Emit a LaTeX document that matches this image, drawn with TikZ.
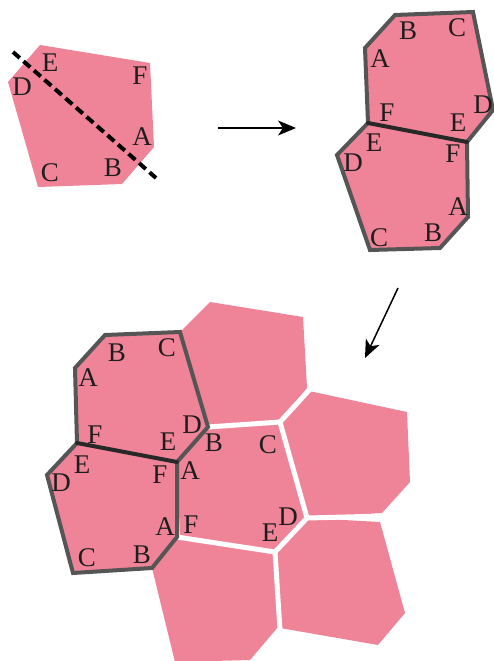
\documentclass[tikz,border=0pt]{standalone}
\usepackage{fontspec}
\setmainfont{Liberation Serif}
\usetikzlibrary{arrows.meta}
\definecolor{tilepink}{RGB}{239,131,152}
\definecolor{edgegray}{RGB}{85,85,85}
\definecolor{seamdark}{RGB}{40,40,40}
\definecolor{lettercol}{RGB}{30,30,30}
\newcommand{\lblfont}{\fontsize{27pt}{27pt}\selectfont}
\tikzset{
  outline/.style={draw=edgegray, line width=4pt, line join=miter},
  shared/.style={draw=seamdark, line width=4pt, line cap=round},
  seam/.style={draw=white, line width=5pt, line cap=round},
  lbl/.style={font=\lblfont, inner sep=0pt, text=lettercol},
  cutline/.style={draw=black, line width=4pt, dash pattern=on 9pt off 5pt},
  arr/.style={draw=black, line width=1.5pt, -{Stealth[length=18pt,width=15pt,inset=5pt]}}
}
\begin{document}
\begin{tikzpicture}[x=1pt,y=-1pt]
\useasboundingbox (0,0) rectangle (494,661);

% ---- first hexagon with cut line ----
\fill[tilepink] (40,45) -- (150,63) -- (154,147) -- (122,184) -- (38,187) -- (8,82) -- cycle;
\node[lbl] (a1E) at (50,63) {E};
\node[lbl] (a1D) at (22,87) {D};
\node[lbl] (a1F) at (140,76) {F};
\node[lbl] (a1A) at (142,137) {A};
\node[lbl] (a1B) at (113,168) {B};
\node[lbl] (a1C) at (50,173) {C};
\coordinate (cutS) at (13,52);
\coordinate (cutE) at (156,178);
\draw[cutline] (cutS) -- (cutE);

% ---- arrow 1 ----
\coordinate (ar1s) at (218,128);
\coordinate (ar1e) at (296,128);
\draw[arr] (ar1s) -- (ar1e);

% ---- top right pair ----
\fill[tilepink] (365,48) -- (395,15) -- (473,12) -- (493,110) -- (467,142) -- (368,123) -- cycle;
\fill[tilepink] (368,123) -- (467,142) -- (468,217) -- (440,248) -- (370,250) -- (337,155) -- cycle;
\draw[outline] (368,123) -- (365,48) -- (395,15) -- (473,12) -- (493,110) -- (467,142)
   -- (468,217) -- (440,248) -- (370,250) -- (337,155) -- cycle;
\draw[shared] (368,123) -- (467,142);
\node[lbl] (b1B) at (408,31) {B};
\node[lbl] (b1C) at (457,28) {C};
\node[lbl] (b1A) at (380,59) {A};
\node[lbl] (b1D) at (483,105) {D};
\node[lbl] (b1E) at (458,123) {E};
\node[lbl] (b1F) at (387,113) {F};
\node[lbl] (b2E) at (374,143) {E};
\node[lbl] (b2D) at (353,163) {D};
\node[lbl] (b2F) at (453,154) {F};
\node[lbl] (b2A) at (458,207) {A};
\node[lbl] (b2B) at (433,233) {B};
\node[lbl] (b2C) at (379,238) {C};

% ---- arrow 2 ----
\coordinate (ar2s) at (398,288);
\coordinate (ar2e) at (365,358);
\draw[arr] (ar2s) -- (ar2e);

% ---- tiling ----
\fill[tilepink] (75,368) -- (105,335) -- (180,332) -- (208,427) -- (177,462) -- (77,443) -- cycle;
\fill[tilepink] (77,443) -- (177,462) -- (177,537) -- (152,568) -- (73,573) -- (47,475) -- cycle;
\fill[tilepink] (208,427) -- (280,422) -- (307,518) -- (275,552) -- (180,537) -- (177,462) -- cycle;
\fill[tilepink] (180,332) -- (210,302) -- (303,317) -- (307,388) -- (280,422) -- (208,427) -- cycle;
\fill[tilepink] (280,422) -- (309,391) -- (407,412) -- (410,482) -- (382,513) -- (307,518) -- cycle;
\fill[tilepink] (275,552) -- (307,518) -- (380,522) -- (405,613) -- (378,645) -- (280,628) -- cycle;
\fill[tilepink] (177,537) -- (275,552) -- (278,627) -- (250,660) -- (175,662) -- (152,568) -- cycle;
% white seams
\draw[seam] (208,427) -- (280,422);
\draw[seam] (280,422) -- (312,387);
\draw[seam] (280,422) -- (307,518);
\draw[seam] (307,518) -- (384,516);
\draw[seam] (307,518) -- (275,552);
\draw[seam] (177,537) -- (275,552);
\draw[seam] (275,552) -- (280,630);
% outlines
\draw[outline] (77,443) -- (75,368) -- (105,335) -- (180,332) -- (208,427) -- (177,462)
   -- (177,537) -- (152,568) -- (73,573) -- (47,475) -- cycle;
\draw[shared] (77,443) -- (177,462);
% labels T1
\node[lbl] (t1B) at (117,353) {B};
\node[lbl] (t1C) at (167,348) {C};
\node[lbl] (t1A) at (88,378) {A};
\node[lbl] (t1F) at (95,435) {F};
\node[lbl] (t1E) at (168,442) {E};
\node[lbl] (t1D) at (192,425) {D};
% labels T2
\node[lbl] (t2E) at (82,465) {E};
\node[lbl] (t2D) at (61,483) {D};
\node[lbl] (t2F) at (160,475) {F};
\node[lbl] (t2A) at (165,527) {A};
\node[lbl] (t2B) at (142,555) {B};
\node[lbl] (t2C) at (87,558) {C};
% labels T3
\node[lbl] (t3B) at (214,443) {B};
\node[lbl] (t3C) at (268,445) {C};
\node[lbl] (t3A) at (190,471) {A};
\node[lbl] (t3F) at (191,525) {F};
\node[lbl] (t3E) at (270,533) {E};
\node[lbl] (t3D) at (288,517) {D};
\end{tikzpicture}
\end{document}
